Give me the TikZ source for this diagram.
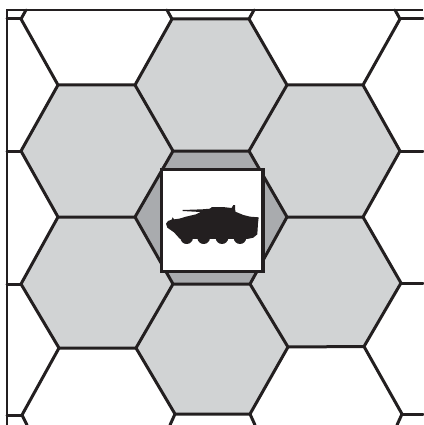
\documentclass[tikz,border=0pt]{standalone}
\definecolor{inkc}{HTML}{231F20}
\definecolor{hexlight}{HTML}{D1D3D4}
\definecolor{hexdark}{HTML}{A9ABAE}
\tikzset{
  grid line/.style={draw=inkc,line width=3pt,line join=round,line cap=round},
  frame line/.style={draw=inkc,line width=2.8pt},
  light hex/.style={fill=hexlight,draw=none},
  dark hex/.style={fill=hexdark,draw=none},
  unit box/.style={fill=white,draw=inkc,line width=3.6pt,line join=miter},
  tank/.style={fill=inkc,draw=none}
}
\begin{document}
\begin{tikzpicture}[x=1pt,y=-1pt]
\useasboundingbox (0,0) rectangle (423,425);
\fill[white] (0,0) rectangle (423,425);
% named lattice vertices
\foreach \n/\x/\y in {
 a/21/19, b/172/19, c/249/19, d/400/19,
 e/58/85, f/135/85, g/287/85, h/363/85,
 i/21/151, j/173/151, k/249/151, l/400/151,
 m/58/217, n/135/217, o/287/217, p/363/217,
 q/21/284, r/173/284, s/250/284, t/401/283,
 u/59/348, v/136/348, w/288/347, y/364/346.5,
 aa/22/415, bb/175/414, cc/250/414, dd/402/414}
 {\coordinate (\n) at (\x,\y);}
% shaded hexes
\path[light hex] (b)--(f)--(j)--(k)--(g)--(c)--cycle;
\path[light hex] (e)--(i)--(m)--(n)--(j)--(f)--cycle;
\path[light hex] (g)--(k)--(o)--(p)--(l)--(h)--cycle;
\path[light hex] (m)--(q)--(u)--(v)--(r)--(n)--cycle;
\path[light hex] (o)--(s)--(w)--(y)--(t)--(p)--cycle;
\path[light hex] (r)--(v)--(bb)--(cc)--(w)--(s)--cycle;
\path[dark hex] (j)--(n)--(r)--(s)--(o)--(k)--cycle;
% lattice
\draw[grid line] (a)--(e)--(f)--(b)--(c)--(g)--(h)--(d);
\draw[grid line] (e)--(i)--(m)--(n)--(j)--(k)--(o)--(p)--(l)--(h);
\draw[grid line] (f)--(j) (k)--(g);
\draw[grid line] (m)--(q)--(u)--(v)--(r)--(s)--(w)--(y)--(t)--(p);
\draw[grid line] (n)--(r) (s)--(o);
\draw[grid line] (u)--(aa) (v)--(bb)--(cc)--(w) (y)--(dd);
% stubs to the frame and page edges
\coordinate (lt1) at (7,19); \coordinate (lt2) at (7,151); \coordinate (lt3) at (7,284); \coordinate (lt4) at (7,415);
\coordinate (rt1) at (423,19); \coordinate (rt2) at (423,151); \coordinate (rt3) at (423,283); \coordinate (rt4) at (423,414);
\draw[grid line] (lt1)--(a) (lt2)--(i) (lt3)--(q) (lt4)--(aa);
\draw[grid line] (d)--(rt1) (l)--(rt2) (t)--(rt3) (dd)--(rt4);
\coordinate (tt1) at (26,10); \coordinate (tt2) at (167,10); \coordinate (tt3) at (254,10); \coordinate (tt4) at (395,10);
\draw[grid line] (a)--(tt1) (b)--(tt2) (c)--(tt3) (d)--(tt4);
\coordinate (bt1) at (27,425); \coordinate (bt2) at (170,425); \coordinate (bt3) at (255,425); \coordinate (bt4) at (397,425);
\draw[grid line] (aa)--(bt1) (bb)--(bt2) (cc)--(bt3) (dd)--(bt4);
\coordinate (f1) at (7,10); \coordinate (f2) at (423,10); \coordinate (f3) at (7,425);
\draw[frame line] (f2)--(f1)--(f3);
% unit counter
\draw[unit box] (161.5,169.5) rectangle (263,271.5);
\begin{scope}[shift={(160,195)},x=0.3333pt,y=-0.3333pt]
 \path[tank] (18,86)--(24,78)--(35,74)--(38,67)--(42,73)--(58,71)--(78,65)--(108,58)--(122,51)
   --(68,48)--(68,45)--(126,43)--(150,41)--(156,36)--(188,36)--(215,39)--(220,30)--(225,30)
   --(226,50)--(250,60)--(270,65)--(296,67)--(294,85)--(292,118)--(280,128)--(262,132)
   --(60,132)--(42,112)--(22,98)--cycle;
 \foreach \wx in {80,131,186,240}{\fill[inkc] (\wx,128) circle (19);}
\end{scope}
\end{tikzpicture}
\end{document}
